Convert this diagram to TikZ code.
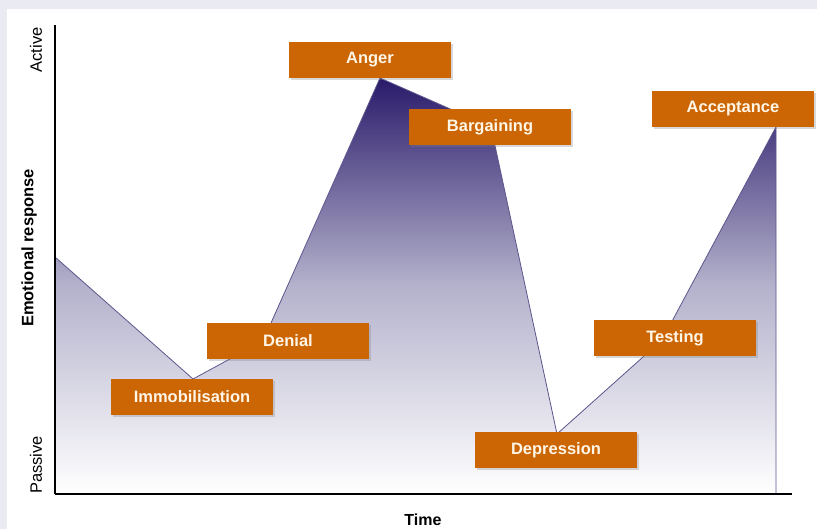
\documentclass[tikz,border=0pt]{standalone}
\usepackage{fontspec}
\setmainfont{Liberation Sans}
\usepackage{tikz}
\usetikzlibrary{shadows}

\definecolor{panelgray}{RGB}{233,234,242}
\definecolor{stageorange}{RGB}{204,102,4}
\definecolor{stagetext}{RGB}{255,246,232}
\definecolor{moodtop}{RGB}{42,26,106}
\definecolor{moodmid}{RGB}{180,178,204}
\definecolor{moodline}{RGB}{92,86,140}

\begin{document}
\begin{tikzpicture}[x=1pt,y=-1pt,
        stage/.style={rectangle, fill=stageorange, text=stagetext,
          minimum width=162pt, minimum height=36pt, inner sep=0pt,
          font=\bfseries\fontsize{16.5}{19}\selectfont,
          drop shadow={shadow xshift=2pt, shadow yshift=-2pt, opacity=0.3}},
        axislabel/.style={rotate=90, font=\fontsize{16.5}{19}\selectfont},
        mood/.style={draw=moodline, line width=0.8pt, line join=round}]

  % frame
  \useasboundingbox (0,0) rectangle (817,529);
  \fill[panelgray] (0,0) rectangle (817,529);
  \fill[white] (7,9) rectangle (817,529);

  % stages
  \coordinate (origin) at (55,494);
  \coordinate (ytop)   at (55,25);
  \coordinate (xend)   at (792,494);
  \coordinate (start)  at (55,257);
  \coordinate (immobk) at (193,379);
  \coordinate (denialk) at (263,341);
  \coordinate (angerk) at (380,78);
  \coordinate (bargk)  at (491,127);
  \coordinate (depk)   at (557,434);
  \coordinate (testk)  at (662,340);
  \coordinate (acck)   at (776,127);
  \coordinate (accfoot) at (776,494);

  \shade[top color=moodtop, bottom color=white, middle color=moodmid]
    (start) -- (immobk) -- (denialk) -- (angerk) -- (bargk) -- (depk)
    -- (testk) -- (acck) -- (accfoot) -- (origin) -- cycle;
  \path[mood] (start) -- (immobk) -- (denialk) -- (angerk) -- (bargk)
    -- (depk) -- (testk) -- (acck) -- (accfoot);

  % axes
  \draw[line width=2.2pt] (ytop) -- (origin);
  \draw[line width=2.8pt] (origin) -- (xend);

  \node[axislabel] (active)  at (36,50)  {Active};
  \node[axislabel] (passive) at (36,465) {Passive};
  \node[axislabel, font=\bfseries\fontsize{16.5}{19}\selectfont] (emotion) at (29,248) {Emotional response};
  \node[font=\bfseries\fontsize{16}{19}\selectfont] (time) at (423,520) {Time};

  \node[stage] (immob)   at (192,397) {Immobilisation};
  \node[stage] (denial)  at (288,341) {Denial};
  \node[stage] (anger)   at (370,60)  {Anger};
  \node[stage] (barg)    at (490,127) {Bargaining};
  \node[stage] (dep)     at (556,450) {Depression};
  \node[stage] (testing) at (675,338) {Testing};
  \node[stage] (accept)  at (733,109) {Acceptance};

\end{tikzpicture}
\end{document}
